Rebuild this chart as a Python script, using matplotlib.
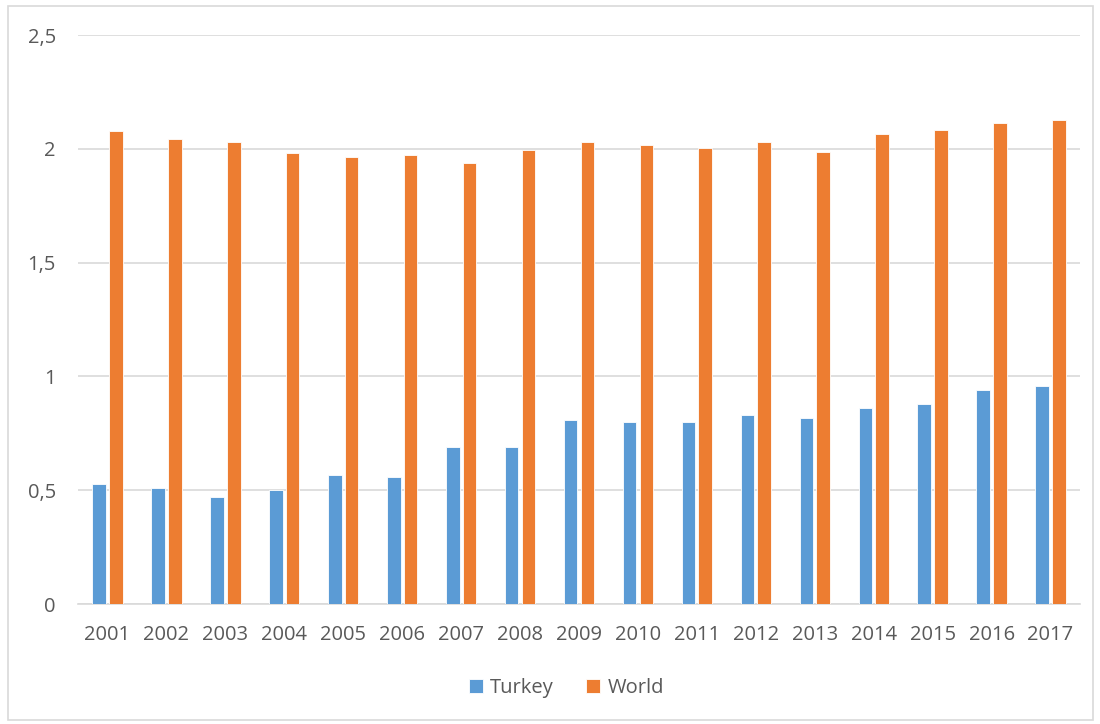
import numpy as np
import matplotlib.pyplot as plt
from matplotlib.patches import Rectangle

plt.rcParams['font.family'] = ['Open Sans', 'DejaVu Sans']

years = [str(y) for y in range(2001, 2018)]
turkey = [0.526, 0.511, 0.469, 0.502, 0.567, 0.557, 0.690, 0.691, 0.808,
          0.798, 0.798, 0.830, 0.816, 0.860, 0.879, 0.942, 0.958]
world = [2.078, 2.041, 2.030, 1.980, 1.963, 1.973, 1.939, 1.994, 2.030,
         2.015, 2.002, 2.031, 1.985, 2.065, 2.083, 2.114, 2.125]
yticks = [0, 0.5, 1, 1.5, 2, 2.5]
ytick_labels = ['0', '0,5', '1', '1,5', '2', '2,5']

blue = '#5b9bd5'
orange = '#ed7d31'
text_col = '#595959'
grid_col = '#d9d9d9'

fig = plt.figure(figsize=(11, 7.24), dpi=100)
ax = fig.add_axes([78 / 1100, 1 - 604 / 724, (1080 - 78) / 1100, (604 - 35) / 724])

x = np.arange(len(years))
w = 0.23
ax.bar(x - 0.142, turkey, w, color=blue, edgecolor='white', linewidth=0.6, label='Turkey', zorder=3)
ax.bar(x + 0.142, world, w, color=orange, edgecolor='white', linewidth=0.6, label='World', zorder=3)

ax.set_xlim(-0.5, len(years) - 0.5)
ax.set_ylim(0, 2.5)
ax.set_yticks(yticks)
ax.set_yticklabels(ytick_labels)
ax.set_xticks(x)
ax.set_xticklabels(years)
ax.yaxis.grid(True, color=grid_col, linewidth=1.2, zorder=0)
ax.tick_params(axis='both', length=0, labelsize=14.5, colors=text_col)
ax.tick_params(axis='y', pad=16)
ax.tick_params(axis='x', pad=15)
for s in ['top', 'right', 'left']:
    ax.spines[s].set_visible(False)
ax.spines['bottom'].set_color(grid_col)
ax.spines['bottom'].set_linewidth(1.2)

leg = fig.legend(loc='center', bbox_to_anchor=(0.515, 1 - 688 / 724), ncol=2, frameon=False,
                 fontsize=14.5, handlelength=0.7, handleheight=0.7, handletextpad=0.35,
                 columnspacing=1.6)
for t in leg.get_texts():
    t.set_color(text_col)

# outer frame around the chart area
fig.patches.append(Rectangle((8 / 1100, 4 / 724), 1085 / 1100, 714 / 724, transform=fig.transFigure,
                             fill=False, edgecolor=grid_col, linewidth=1.2))

fig.savefig('out.png', dpi=100)
